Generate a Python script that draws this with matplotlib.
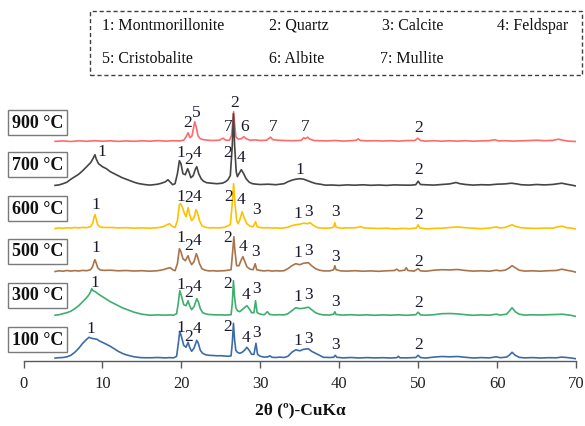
import numpy as np
import matplotlib
matplotlib.use("Agg")
import matplotlib.pyplot as plt
from matplotlib.patches import Rectangle

plt.rcParams['font.family'] = ['Liberation Serif', 'DejaVu Serif']

# ---------------- data (2theta, relative intensity) ----------------
xrd_900 = [(4.0,0.3),(5,0.8),(6,0.2),(7,0.9),(8,0.4),(9,1.0),(10,0.5),(11,0.9),(12,0.3),(13,0.8),(14,0.4),(15,0.9),
           (16,0.5),(17,1.1),(18,0.6),(19,1.0),(19.8,0.8),(20.3,1.5),(20.6,5),(20.85,9),(21.1,4),(21.35,6),(21.55,14),
           (21.7,20),(21.9,14),(22.1,6),(22.4,3),(22.8,2),(23.3,1.5),(24,1.2),(24.8,1.5),(25.3,3.5),(25.6,1.5),(26.1,1.5),
           (26.35,6),(26.5,18),(26.62,30),(26.75,18),(26.9,5),(27.2,2.5),(27.6,3),(27.9,5),(28.2,3),(28.7,1.5),(29.4,1.8),
           (30,1.2),(30.8,1.5),(31.3,4.5),(31.6,2),(32.2,1.5),(33,1.2),(34,1.0),(35.2,1.3),(35.5,4),(35.7,3),(36.0,4.5),
           (36.3,2.5),(36.8,1.2),(37.5,1.0),(38.5,0.8),(39.5,1.2),(40.5,0.6),(41.5,1.0),(42.2,1.5),(42.4,2.8),(42.7,1.2),
           (43.5,0.8),(44.5,1.0),(45.5,0.7),(46.5,1.0),(47.5,0.6),(48.5,1.1),(49.6,1.2),(49.95,3.5),(50.3,1.2),(51,0.6),
           (52,1.0),(53,0.5),(54,0.9),(55,0.6),(56,1.0),(57,0.5),(58,0.8),(59,1.0),(59.7,2.0),(60.2,0.8),(61,1.0),(62,0.6),
           (63,0.9),(64,1.1),(65,1.5),(66,1.0),(67,1.3),(67.8,2.5),(68.3,1.5),(69,0.6),(70,0.2)]

xrd_700 = [(4.0,0.3),(4.5,0.8),(5,2),(5.5,3.5),(6,6.5),(6.5,9),(7,11.5),(7.5,15),(8,19),(8.5,23),(8.8,27),(9.05,31),
           (9.2,27),(9.5,22),(10,19),(10.5,17),(11,14),(11.5,12),(12,10),(12.5,8),(13,6.5),(13.5,5),(14,3.5),(14.5,2.3),
           (15,1.6),(15.5,1.0),(16,0.6),(16.5,1.0),(17,1.5),(17.5,2.5),(18.0,4),(18.3,6),(18.6,3.5),(18.9,1.0),(19.2,2),
           (19.5,12),(19.75,25),(19.95,22),(20.2,12),(20.5,11),(20.8,17),(21.0,13),(21.2,8),(21.5,10),(21.8,17),(21.95,19),
           (22.2,12),(22.5,7),(22.8,4.5),(23.2,3),(23.8,2.5),(24.5,2),(25.2,2.5),(25.6,4),(25.9,6),(26.2,10),(26.45,40),
           (26.6,72),(26.75,40),(26.95,14),(27.1,9),(27.3,12),(27.6,16),(27.9,12),(28.2,7),(28.6,3.5),(29,2),(29.5,1.5),
           (30,1.2),(31,1.5),(32,1.0),(33,2),(33.5,4),(34,5.5),(34.5,6.5),(35,7),(35.5,6.5),(36,5),(36.5,3.5),(37,2.2),
           (37.6,1.5),(38.3,0.5),(39,0.7),(40,0.3),(41,0.8),(42,0.5),(43,0.9),(44,0.4),(45,0.7),(46,0.3),(47,0.8),(48,0.6),
           (49,0.5),(49.7,1.0),(50,4.5),(50.3,1.2),(51,0.9),(52,0.6),(53,1.2),(54,1.8),(54.8,3.2),(55.3,2),(56,1.2),(57,0.6),
           (58,1.0),(59,0.8),(60,1.5),(61,1.8),(61.8,2.5),(62.5,1.8),(63,1.0),(64,0.6),(65,1.2),(66,0.8),(67,1.2),(68.2,2.5),
           (68.8,1.5),(69.5,0.5),(70,-0.3)]

xrd_600 = [(4.0,0.2),(4.5,0.8),(5,0.4),(5.5,1.0),(6,0.6),(6.5,1.2),(7,0.8),(7.5,1.3),(8,1.0),(8.5,2),(8.75,5),(8.95,12),
           (9.05,14),(9.2,10),(9.4,4),(9.7,1.8),(10.2,1.2),(11,1.3),(12,0.8),(13,1.0),(14,0.6),(15,0.8),(16,0.5),(17,1.0),
           (17.7,2),(18.2,4),(18.5,5),(18.8,2.5),(19.2,1.2),(19.5,8),(19.75,24),(19.9,25),(20.1,22),(20.4,15),(20.6,12),
           (20.85,21),(21.05,14),(21.3,8),(21.6,11),(21.85,19),(22.0,17),(22.3,8),(22.6,3),(23,1.5),(23.5,0.8),(24,1.0),
           (24.5,0.7),(25,1.0),(25.5,1.5),(25.9,3),(26.2,4),(26.45,25),(26.62,45),(26.8,25),(27.0,8),(27.2,5),(27.45,10),
           (27.7,17),(27.95,11),(28.3,5),(28.7,2.5),(29.1,2),(29.4,7),(29.6,2),(30,1.2),(30.5,0.8),(31,1.0),(31.5,0.6),
           (32,0.8),(32.5,0.5),(33,0.8),(33.5,1.5),(34,3),(34.5,4),(35,4.5),(35.5,5.5),(36,5),(36.3,6),(36.8,3),(37.3,1),
           (38,0.5),(38.8,0.6),(39.3,1.5),(39.45,6),(39.6,1.5),(40.2,0.6),(41,0.8),(42,0.9),(42.7,2),(43.2,0.8),(44,0.5),
           (45,0.2),(46,0.5),(47,-0.2),(48,0.3),(49,0.0),(49.8,0.8),(50,4),(50.2,0.8),(51,-0.2),(52,0.3),(53,0.5),(54,1.2),
           (55,1.8),(56,1.0),(57,0.5),(58,0.0),(59,0.6),(59.9,1.8),(60.3,0.8),(61,1.2),(61.6,3),(61.9,4),(62.3,2.5),(63,1.0),
           (64,0.5),(65,0.3),(66,0.6),(67,0.5),(67.8,2.0),(68.3,2.5),(68.8,1.0),(69.5,0.5),(70,-0.3)]

xrd_500 = [(4.0,0.2),(4.5,0.9),(5,0.5),(5.5,1.2),(6,0.6),(6.5,1.1),(7,0.7),(7.5,1.3),(8,1.0),(8.5,2),(8.75,5),(8.95,10),
           (9.05,12),(9.2,9),(9.4,4),(9.7,1.8),(10.2,1.3),(11,1.5),(12,0.9),(13,1.2),(14,0.7),(15,1.0),(16,0.5),(17,1.0),
           (17.7,2),(18.3,3.5),(18.6,4),(18.9,2),(19.2,1.0),(19.5,8),(19.75,23),(19.95,20),(20.2,13),(20.5,11),(20.85,16),
           (21.05,11),(21.3,7),(21.6,10),(21.9,18),(22.05,15),(22.3,8),(22.6,3),(23,1.5),(23.5,0.8),(24,1.0),(24.5,0.6),
           (25,0.9),(25.5,1.0),(25.9,1.5),(26.3,2),(26.5,20),(26.65,35),(26.8,20),(27.0,6),(27.3,6),(27.6,12),(27.8,15),
           (28.0,11),(28.3,5),(28.7,2.5),(29.1,2),(29.35,8),(29.55,2),(30,1.2),(30.5,0.8),(31,1.2),(31.5,0.6),(32,1.0),
           (32.5,0.7),(33,1.0),(33.5,3),(34,6),(34.5,8),(35,7),(35.5,8.5),(36.1,9),(36.5,6),(37,3),(37.5,1.5),(38,0.8),
           (38.8,0.8),(39.3,2),(39.45,6),(39.6,2),(40.2,0.8),(41,0.6),(42,1.0),(43,0.5),(44,0.8),(45,0.4),(46,0.9),(47,1.2),
           (47.3,2.5),(47.6,0.8),(48.3,1.5),(48.5,4),(48.7,1.2),(49.5,0.6),(50,3),(50.3,0.8),(51,0.5),(52,1.5),(53,2.0),
           (54,1.8),(55,2.2),(56,1.2),(57,0.6),(58,0.9),(59,0.5),(59.9,1.5),(60.4,0.9),(61,1.5),(61.5,3.5),(61.9,6),(62.3,4),
           (62.8,1.5),(63.5,0.6),(64.5,0.9),(65.5,0.5),(66.5,1.0),(67.5,1.2),(68.2,2.5),(68.8,1.5),(69.5,0.5),(70,-0.5)]

xrd_300 = [(4.0,0.5),(4.5,1.0),(5,2),(5.5,3),(6,4.5),(6.5,7),(7,10),(7.5,14),(8,18),(8.3,21),(8.5,24),(8.65,27),(8.8,25),
           (9.1,24),(9.6,21),(10,19),(10.5,16.5),(11,14),(11.5,12),(12,10),(12.5,8),(13,6.5),(13.5,5),(14,3.5),(14.5,2.5),
           (15,1.5),(15.5,1.0),(16,0.5),(17,0.8),(18,0.5),(18.5,0.8),(19,0.5),(19.4,2),(19.6,12),(19.8,25),(20.0,20),
           (20.3,11),(20.6,10),(20.85,15),(21.05,10),(21.3,6),(21.6,9),(21.95,17),(22.15,14),(22.4,7),(22.7,3),(23.1,1.8),
           (23.5,1.2),(24,1.0),(24.5,0.8),(25,0.9),(25.5,0.6),(26,0.8),(26.3,1),(26.45,12),(26.6,35),(26.75,18),(26.9,8),
           (27.1,5),(27.4,4),(27.7,6),(28.0,8),(28.3,10),(28.6,7),(28.9,3),(29.2,3),(29.4,15),(29.6,3),(30,1.5),(30.5,1.0),
           (30.9,4),(31.2,1.2),(31.8,0.8),(32.5,1.0),(33,0.7),(33.5,2),(34,5),(34.5,8),(35,7),(35.5,7.5),(36.1,8.5),
           (36.5,6),(37,3),(37.5,1.5),(38,0.8),(38.8,0.7),(39.3,1.5),(39.45,4),(39.6,1.2),(40.5,0.6),(41.5,1.0),(42.5,0.5),
           (43.5,0.9),(44.5,0.4),(45.5,0.8),(46.5,0.5),(47.5,0.9),(48.5,0.4),(49.7,1.0),(50,3.5),(50.3,0.8),(51,0.5),
           (52,1.0),(53,2),(54,2.2),(55,1.8),(56,1.0),(57,0.4),(58,0.8),(59,0.5),(59.9,1.5),(60.4,0.7),(61.2,1.5),(61.6,5),
           (61.9,8),(62.3,4),(62.8,1.5),(63.5,0.6),(64.5,0.9),(65.5,0.7),(66.5,1.0),(67.5,1.2),(68.2,1.5),(68.8,1.0),
           (69.5,0.2),(70,-0.8)]

xrd_100 = [(4.0,0.2),(4.5,0.6),(5,0.8),(5.5,1.5),(6,3),(6.5,6),(7,10),(7.5,15),(8,19),(8.3,21),(8.6,20),(9,19.5),(9.3,19),
           (9.7,17),(10,16),(10.5,14),(11,12),(11.5,9.5),(12,7),(12.5,5),(13,3.5),(13.5,2.5),(14,1.5),(14.5,1.0),(15,0.6),
           (16,0.5),(17,0.8),(18,0.4),(18.5,0.7),(19,0.4),(19.4,2),(19.6,14),(19.8,27),(20.0,22),(20.3,13),(20.6,11),
           (20.85,16),(21.05,11),(21.3,7),(21.6,10),(21.95,18),(22.15,15),(22.4,8),(22.7,5),(23.1,3.5),(23.5,3),(24,2.8),
           (24.5,2.5),(25,2.6),(25.5,2.3),(26,2.0),(26.3,2.5),(26.45,15),(26.6,35),(26.75,18),(26.9,8),(27.1,6),(27.4,5),
           (27.7,6),(28.0,8),(28.3,11),(28.6,8),(28.9,4),(29.2,4),(29.45,15),(29.65,4),(30,2),(30.5,1.2),(31,1.5),(31.2,2.5),
           (31.5,1.0),(32,0.8),(32.5,1.2),(33,0.8),(33.5,2),(34,6),(34.5,8.5),(35,7.5),(35.5,9),(36.1,9.5),(36.5,7),(37,5),
           (37.5,3),(38,1.0),(38.8,0.8),(39.3,1.0),(39.5,3),(39.7,1.0),(40.5,0.4),(41.5,0.8),(42.5,0.3),(43.5,0.7),
           (44.5,0.4),(45.5,0.6),(46.5,0.3),(47.3,0.6),(47.5,2),(47.7,0.5),(48.5,0.4),(49.7,0.8),(50,3),(50.3,0.7),(51,0.3),
           (52,1.2),(53,1.8),(54,1.5),(55,1.8),(56,1.0),(57,0.3),(58,0.7),(59,0.4),(59.9,1.5),(60.4,0.6),(61.2,1.2),
           (61.6,3.5),(61.9,6),(62.3,3),(62.8,1.0),(63.5,0.4),(64.5,0.7),(65.5,0.3),(66.5,0.6),(67.5,0.5),(68.2,1.2),
           (68.8,0.8),(69.5,0.2),(70,-0.5)]

temperatures = ['900 °C', '700 °C', '600 °C', '500 °C', '300 °C', '100 °C']
patterns = [xrd_900, xrd_700, xrd_600, xrd_500, xrd_300, xrd_100]
offsets = [219.3, 175.3, 132.3, 89.3, 45.3, 2.7]
colors = ['#FF6B6B', '#454545', '#FFC000', '#A9744A', '#3FAE6E', '#3C6CA8']

# peak labels: (text, 2theta, height)
peak_labels = [
    # 900
    ('2', 20.8, 238.7), ('5', 21.9, 249.3), ('7', 25.9, 235), ('2', 26.7, 258.7), ('6', 27.95, 235),
    ('7', 31.6, 235), ('7', 35.7, 235), ('2', 50.05, 233.7),
    # 700
    ('1', 9.9, 210.3), ('1', 19.95, 209.3), ('2', 20.95, 202), ('4', 22.0, 209), ('2', 25.9, 209),
    ('4', 27.6, 203.7), ('1', 35.0, 192), ('2', 50.05, 192),
    # 600
    ('1', 9.2, 157), ('1', 19.9, 165.3), ('2', 20.95, 163.7), ('4', 22.0, 164.7), ('2', 26.05, 165.3),
    ('4', 27.6, 162), ('3', 29.5, 152), ('1', 34.8, 148), ('3', 36.05, 150), ('3', 39.55, 150.3), ('2', 50.05, 147),
    # 500
    ('1', 9.2, 113.7), ('1', 19.9, 123.7), ('2', 20.95, 116.3), ('4', 22.0, 121), ('2', 25.9, 123.7),
    ('4', 27.8, 115.3), ('3', 29.4, 109.7), ('1', 34.8, 109.3), ('3', 36.05, 111.3), ('3', 39.55, 105.3), ('2', 50.05, 100.3),
    # 300
    ('1', 9.05, 79), ('1', 19.9, 77), ('2', 20.95, 68.7), ('4', 22.0, 75.3), ('2', 25.9, 77.7),
    ('4', 28.2, 67), ('3', 29.5, 72.7), ('1', 34.8, 65.3), ('3', 36.05, 67.3), ('3', 39.55, 60.3), ('2', 50.05, 58.7),
    # 100
    ('1', 8.5, 32.7), ('1', 19.9, 34.3), ('2', 20.95, 25.3), ('4', 22.0, 33), ('2', 25.9, 35.3),
    ('4', 28.25, 23.7), ('3', 29.5, 28.7), ('1', 34.8, 21), ('3', 36.05, 23), ('3', 39.55, 17), ('2', 50.05, 17),
]

legend_entries = ['1: Montmorillonite', '2: Quartz', '3: Calcite', '4: Feldspar',
                  '5: Cristobalite', '6: Albite', '7: Mullite']

xticks = [0, 10, 20, 30, 40, 50, 60, 70]

# ---------------- figure ----------------
W, H = 585, 427
fig = plt.figure(figsize=(W / 100, H / 100), dpi=100)
ax_l, ax_r, ax_b = 23.5, 576, 362
ax = fig.add_axes([ax_l / W, (H - ax_b) / H, (ax_r - ax_l) / W, ax_b / H])
ax.set_xlim(0, 70)
ax.set_ylim(0, 362)

for pat, off, col in zip(patterns, offsets, colors):
    arr = np.array(pat)
    ax.plot(arr[:, 0], arr[:, 1] + off, color=col, lw=1.2, solid_joinstyle='round')

for txt, x, y in peak_labels:
    ax.text(x, y, txt, ha='center', va='center', fontsize=12.5, color='#1a1a2e', clip_on=False)

# temperature labels with boxes
for t, off in zip(temperatures, [239, 196.5, 152.7, 110, 66, 21.5]):
    ax.add_patch(Rectangle((-1.92, off - 12.5), 7.39, 25, transform=ax.transData,
                           facecolor='white', edgecolor='#7a7a7a', lw=1.0, clip_on=False, zorder=5))
    ax.text(1.77, off, t, ha='center', va='center', fontsize=13, fontweight='bold',
            color='#111111', clip_on=False, zorder=6)

# axes styling
for s in ['left', 'top', 'right']:
    ax.spines[s].set_visible(False)
ax.spines['bottom'].set_color('#595959')
ax.spines['bottom'].set_linewidth(1.0)
ax.set_yticks([])
ax.set_xticks(xticks)
ax.set_xticklabels([str(v) for v in xticks])
ax.tick_params(axis='x', direction='out', length=5, width=1.0, color='#595959',
               labelsize=12, pad=5, labelcolor='#222222')

fig.text(300 / W, 1 - 410 / H, '2θ (º)-CuKα', ha='center', va='center', fontsize=12.5,
         fontweight='bold', color='#111111')

# legend box (dashed)
lx0, ly0, lx1, ly1 = 90, 11.7, 581.7, 76
fig.add_artist(Rectangle((lx0 / W, 1 - ly1 / H), (lx1 - lx0) / W, (ly1 - ly0) / H,
                         transform=fig.transFigure, facecolor='none', edgecolor='#404040',
                         lw=1.0, linestyle=(0, (3, 2))))
leg_pos = [(101.7, 26), (269.3, 26), (381.7, 26), (496.7, 26),
           (101.7, 59.3), (269.3, 59.3), (380, 59.3)]
for txt, (px, py) in zip(legend_entries, leg_pos):
    fig.text(px / W, 1 - py / H, txt, ha='left', va='center', fontsize=11.5, color='#111111')

fig.savefig('out.png', dpi=100)
